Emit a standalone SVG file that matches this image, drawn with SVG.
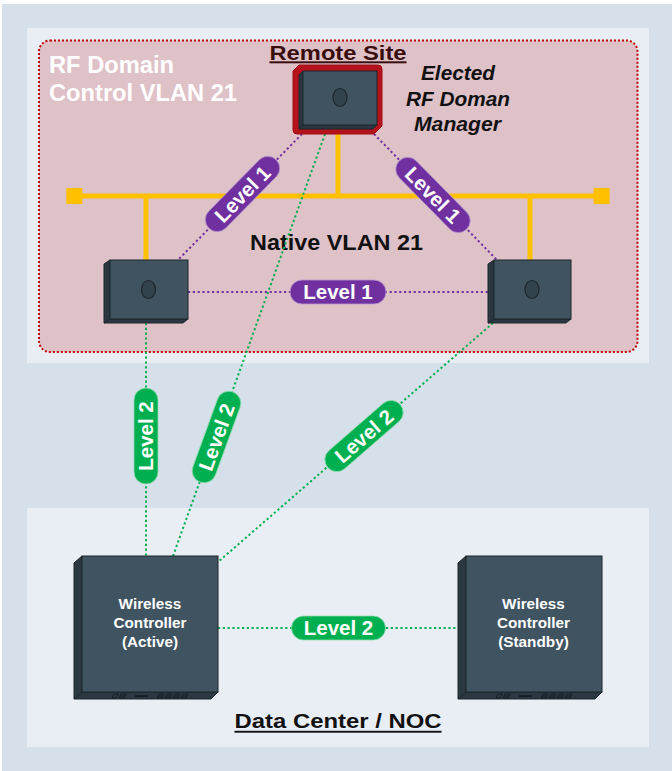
<svg xmlns="http://www.w3.org/2000/svg" xmlns:xlink="http://www.w3.org/1999/xlink" width="672" height="771" viewBox="0 0 672 771">
  <style>
    text { font-family: "Liberation Sans", Arial, sans-serif; font-weight: bold; }
    .panel { fill: #e9eef5; }
    .face { fill: #405361; stroke: #1d262c; stroke-width: 1; }
    .side { fill: #2b3841; stroke: #1d262c; stroke-width: 1; stroke-linejoin: round; }
    .lens { fill: #33434e; stroke: #1d262c; stroke-width: 1.2; }
    .bus { stroke: #ffc000; stroke-width: 5; fill: none; }
    .l1 { stroke: #7030a0; stroke-width: 2; stroke-dasharray: 2.2 2.6; fill: none; }
    .l2 { stroke: #00b050; stroke-width: 2; stroke-dasharray: 2.2 2.6; fill: none; }
    .pill1 { fill: #7030a0; stroke: #b79ad0; stroke-width: 0.8; }
    .pill2 { fill: #00b050; stroke: #8fdcb0; stroke-width: 0.8; }
    .pilltext { fill: #ffffff; font-size: 20.5px; text-anchor: middle; }
    .ctrltext { fill: #ffffff; font-size: 15.3px; text-anchor: middle; }
    .port { fill: none; stroke: #151d22; stroke-width: 0.9; }
  </style>
  <defs>
    <!-- port markings on a controller's bottom ledge; origin = left edge of front face, top of ledge -->
    <g id="ctrl-ports">
      <path class="port" d="M30,6 L32,2 L36,2 L34,6 Z"/>
      <path class="port" d="M37,6 L39,2 L44,2 L42,6 Z M38,4 L43,4"/>
      <rect x="53" y="3.2" width="13" height="1.8" fill="#151d22"/>
      <path class="port" d="M75,6 L77,2 L82,2 L80,6 Z M76,4 L81,4"/>
      <path class="port" d="M83,6 L85,2 L90,2 L88,6 Z M84,4 L89,4"/>
      <path class="port" d="M91,6 L93,2 L98,2 L96,6 Z M92,4 L97,4"/>
      <path class="port" d="M99,6 L101,2 L106,2 L104,6 Z M100,4 L105,4"/>
    </g>
  </defs>

  <!-- backdrop -->
  <rect x="0" y="0" width="672" height="771" fill="#ffffff"/>
  <rect x="2" y="4" width="670" height="767" fill="#d6e0ea"/>
  <rect class="panel" x="27" y="28" width="622" height="335"/>
  <rect class="panel" x="27" y="508" width="622" height="239"/>

  <!-- RF domain area -->
  <g id="rf-domain">
    <rect x="39" y="40.5" width="598.5" height="311.5" rx="11" fill="#dfc1c8" stroke="#c00000" stroke-width="2" stroke-dasharray="2 2"/>
    <text x="49" y="72.5" font-size="23px" fill="#ffffff" textLength="125" lengthAdjust="spacingAndGlyphs">RF Domain</text>
    <text x="49" y="101" font-size="23px" fill="#ffffff" textLength="188" lengthAdjust="spacingAndGlyphs">Control VLAN 21</text>
  </g>

  <!-- native VLAN bus -->
  <g id="native-vlan">
    <path class="bus" d="M74,196 H601.5 M146,196 V260 M530,196 V260 M338,134 V196"/>
    <rect x="66.3" y="188" width="16" height="16" fill="#ffc000"/>
    <rect x="593.6" y="188" width="16" height="16" fill="#ffc000"/>
    <text x="336.5" y="250" font-size="22px" fill="#111111" text-anchor="middle" textLength="173" lengthAdjust="spacingAndGlyphs">Native VLAN 21</text>
  </g>

  <!-- connectors -->
  <g id="connectors">
    <path class="l1" d="M302,134 L178,260"/>
    <path class="l1" d="M374,134 L497,260"/>
    <path class="l1" d="M188,292 H488"/>
    <path class="l2" d="M146,323 V556"/>
    <path class="l2" d="M325,134 L173,556"/>
    <path class="l2" d="M493,323 L218,562"/>
    <path class="l2" d="M218,628 H466"/>
  </g>

  <!-- connector labels -->
  <g id="link-labels">
    <g transform="translate(242.5,194) rotate(-45.5)">
      <rect class="pill1" x="-48" y="-12" width="96" height="24" rx="12"/>
      <text class="pilltext" y="7.3">Level 1</text>
    </g>
    <g transform="translate(433,195) rotate(45.5)">
      <rect class="pill1" x="-48" y="-12" width="96" height="24" rx="12"/>
      <text class="pilltext" y="7.3">Level 1</text>
    </g>
    <g transform="translate(338,292)">
      <rect class="pill1" x="-48" y="-12" width="96" height="24" rx="12"/>
      <text class="pilltext" y="7.3">Level 1</text>
    </g>
    <g transform="translate(146,436) rotate(-90)">
      <rect class="pill2" x="-48" y="-12" width="96" height="24" rx="12"/>
      <text class="pilltext" y="7.3">Level 2</text>
    </g>
    <g transform="translate(216.5,437) rotate(-70)">
      <rect class="pill2" x="-48" y="-12" width="96" height="24" rx="12"/>
      <text class="pilltext" y="7.3">Level 2</text>
    </g>
    <g transform="translate(364,436) rotate(-41)">
      <rect class="pill2" x="-48" y="-12" width="96" height="24" rx="12"/>
      <text class="pilltext" y="7.3">Level 2</text>
    </g>
    <g transform="translate(338.5,628)">
      <rect class="pill2" x="-47" y="-12" width="94" height="24" rx="12"/>
      <text class="pilltext" y="7.3">Level 2</text>
    </g>
  </g>

  <!-- elected RF domain manager access point -->
  <g id="ap-manager">
    <text x="338" y="59.5" font-size="21px" fill="#3a0d0d" text-anchor="middle" textLength="137" lengthAdjust="spacingAndGlyphs">Remote Site</text>
    <rect x="269.5" y="61.3" width="137" height="2" fill="#3a0d0d"/>
    <path d="M299,65 H378 Q382,65 382,69 V126 L374,134 H297 Q293,134 293,130 V71 Z" fill="#b5121b" stroke="#9c0f17" stroke-width="1" stroke-linejoin="round"/>
    <path class="side" d="M299,75 L303,71 V125 L299,129 Z"/>
    <path class="side" d="M299,129 L303,125 H377 L373,129 Z"/>
    <rect class="face" x="303" y="71" width="74" height="54"/>
    <ellipse class="lens" cx="340" cy="97.5" rx="7" ry="9"/>
    <g font-style="italic" font-size="20px" fill="#111111" text-anchor="middle">
      <text x="458" y="80" textLength="74" lengthAdjust="spacingAndGlyphs">Elected</text>
      <text x="458" y="106" textLength="104" lengthAdjust="spacingAndGlyphs">RF Doman</text>
      <text x="457.5" y="131" textLength="87" lengthAdjust="spacingAndGlyphs">Manager</text>
    </g>
  </g>

  <!-- left access point -->
  <g id="ap-left">
    <path class="side" d="M104,264 L110,260 V319 L104,323 Z"/>
    <path class="side" d="M104,323 L110,319 H188 L183,323 Z"/>
    <rect class="face" x="110" y="260" width="78" height="59"/>
    <ellipse class="lens" cx="148.5" cy="289.5" rx="7" ry="9"/>
  </g>

  <!-- right access point -->
  <g id="ap-right">
    <path class="side" d="M488,264 L494,260 V319 L488,323 Z"/>
    <path class="side" d="M488,323 L494,319 H571 L566,323 Z"/>
    <rect class="face" x="494" y="260" width="77" height="59"/>
    <ellipse class="lens" cx="532" cy="289.5" rx="7" ry="9"/>
  </g>

  <!-- active wireless controller -->
  <g id="controller-active">
    <path class="side" d="M74,563 L82,556 V692 L74,699 Z"/>
    <path class="side" d="M74,699 L82,692 H218 L211,699 Z"/>
    <rect class="face" x="82" y="556" width="136" height="136"/>
    <use xlink:href="#ctrl-ports" href="#ctrl-ports" x="82" y="692"/>
    <text class="ctrltext" x="150" y="608.5">Wireless</text>
    <text class="ctrltext" x="150" y="627.5">Controller</text>
    <text class="ctrltext" x="150" y="646.5">(Active)</text>
  </g>

  <!-- standby wireless controller -->
  <g id="controller-standby">
    <path class="side" d="M458,563 L466,556 V692 L458,699 Z"/>
    <path class="side" d="M458,699 L466,692 H602 L595,699 Z"/>
    <rect class="face" x="466" y="556" width="136" height="136"/>
    <use xlink:href="#ctrl-ports" href="#ctrl-ports" x="466" y="692"/>
    <text class="ctrltext" x="533.5" y="608.5">Wireless</text>
    <text class="ctrltext" x="533.5" y="627.5">Controller</text>
    <text class="ctrltext" x="533.5" y="646.5">(Standby)</text>
  </g>

  <!-- data center caption -->
  <g id="data-center">
    <text x="338" y="728.3" font-size="21px" fill="#111111" text-anchor="middle" textLength="207" lengthAdjust="spacingAndGlyphs">Data Center / NOC</text>
    <rect x="234.5" y="730.8" width="207" height="1.9" fill="#111111"/>
  </g>
</svg>
